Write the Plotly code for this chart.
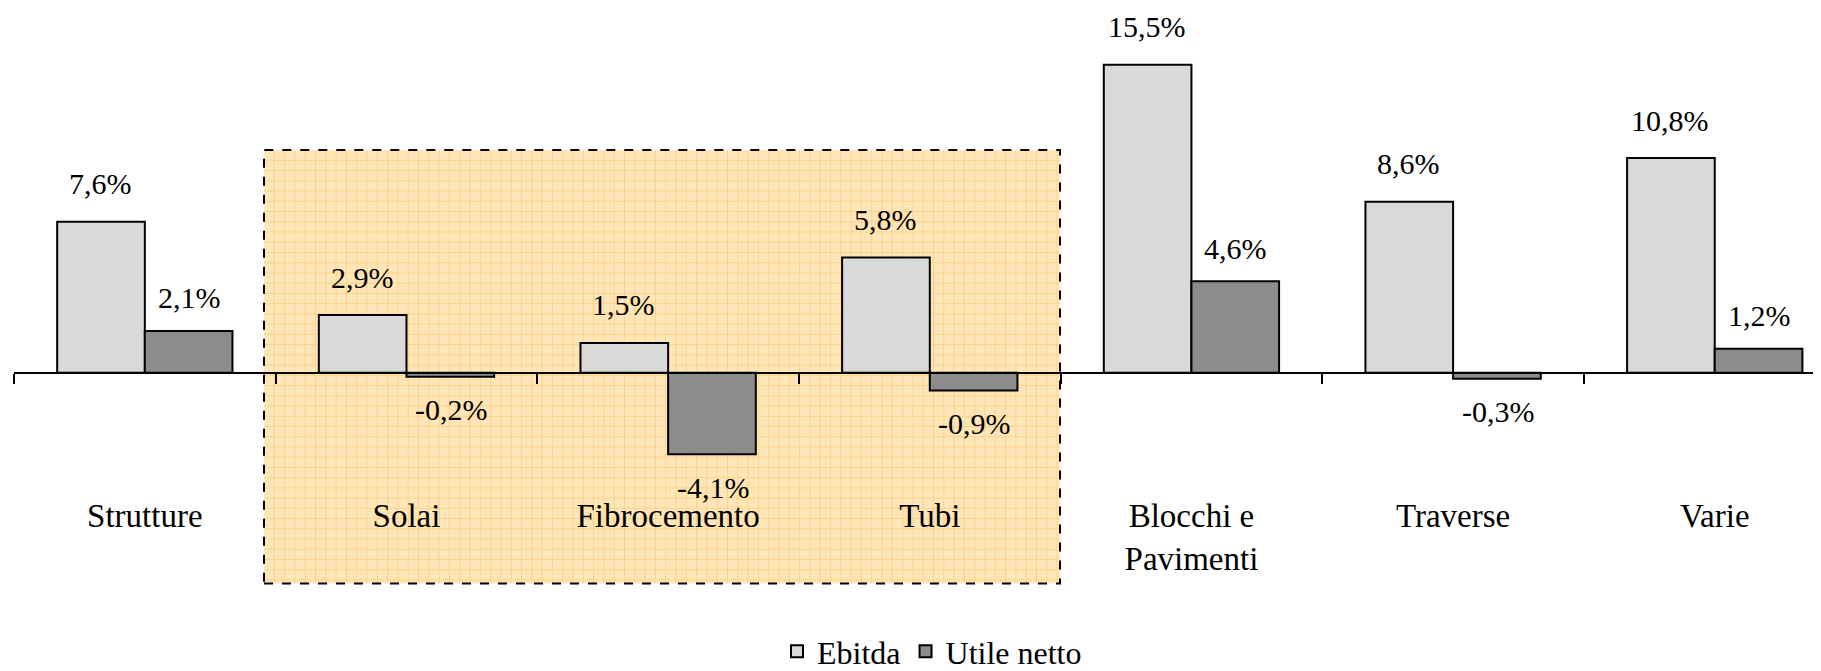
import plotly.graph_objects as go

# data
categorie = ["Strutture", "Solai", "Fibrocemento", "Tubi", "Blocchi e<br>Pavimenti", "Traverse", "Varie"]
ebitda = [7.6, 2.9, 1.5, 5.8, 15.5, 8.6, 10.8]
utile_netto = [2.1, -0.2, -4.1, -0.9, 4.6, -0.3, 1.2]

FONT = "Liberation Serif"
FS = 30

# layout geometry (pixels); the page body adds an 8px margin
OFF = 8
W, H = 1821, 671
ML, MB = 14 - OFF, 181 + OFF
PLOT_H = H - MB
PLOT_W = W - ML
AXIS_PX = 375 - OFF
PX_PER_UNIT = 20
Y_RANGE = [(AXIS_PX - PLOT_H) / PX_PER_UNIT, AXIS_PX / PX_PER_UNIT]


def fmt(v):
    return ("%.1f%%" % v).replace(".", ",")


def px_x(p):
    return (p - OFF - ML) / PLOT_W


def px_y(p):
    return (PLOT_H - (p - OFF)) / PLOT_H


fig = go.Figure()
fig.add_trace(go.Bar(x=categorie, y=ebitda, name="Ebitda",
                     marker=dict(color="#D9D9D9", line=dict(color="black", width=2))))
fig.add_trace(go.Bar(x=categorie, y=utile_netto, name="Utile netto",
                     marker=dict(color="#8C8C8C", line=dict(color="black", width=2))))

# value labels
for i, c in enumerate(categorie):
    fig.add_annotation(x=i - 0.17, y=ebitda[i], text=fmt(ebitda[i]), showarrow=False,
                       yanchor="middle", yshift=38 if ebitda[i] >= 0 else -38,
                       font=dict(family=FONT, size=FS, color="black"))
    fig.add_annotation(x=i + 0.17, y=utile_netto[i], text=fmt(utile_netto[i]), showarrow=False,
                       yanchor="middle", yshift=33 if utile_netto[i] >= 0 else -33,
                       font=dict(family=FONT, size=FS, color="black"))

# highlighted box (Solai, Fibrocemento, Tubi)
bx0, bx1, by0, by1 = 264, 1060, 151, 587
shapes = [dict(type="rect", xref="paper", yref="paper", x0=px_x(bx0), x1=px_x(bx1),
               y0=px_y(by1), y1=px_y(by0), fillcolor="#FFE6B8", line=dict(width=0), layer="below")]
step = 10.3
p = bx0 + step
while p < bx1:
    shapes.append(dict(type="line", xref="paper", yref="paper", x0=px_x(p), x1=px_x(p),
                       y0=px_y(by1), y1=px_y(by0), line=dict(color="#FDD38A", width=1), layer="below"))
    p += step
p = by0 + step
while p < by1:
    shapes.append(dict(type="line", xref="paper", yref="paper", x0=px_x(bx0), x1=px_x(bx1),
                       y0=px_y(p), y1=px_y(p), line=dict(color="#FDD38A", width=1), layer="below"))
    p += step
shapes.append(dict(type="rect", xref="paper", yref="paper", x0=px_x(bx0), x1=px_x(bx1),
                   y0=px_y(by1), y1=px_y(by0), fillcolor="rgba(0,0,0,0)",
                   line=dict(color="black", width=2, dash="dash"), layer="below"))

zero_pos = (0 - Y_RANGE[0]) / (Y_RANGE[1] - Y_RANGE[0])
x_end = (W - OFF - ML) / 260.5 - 0.5

fig.update_layout(
    width=W, height=H,
    margin=dict(l=ML, r=0, t=0, b=MB),
    plot_bgcolor="rgba(0,0,0,0)", paper_bgcolor="white",
    barmode="group", bargap=0.33, bargroupgap=0,
    font=dict(family=FONT, size=FS, color="black"),
    shapes=shapes,
    showlegend=True,
    legend=dict(orientation="h", x=px_x(932), xanchor="center", y=px_y(656), yanchor="middle",
                font=dict(family=FONT, size=32), itemwidth=30, tracegroupgap=0),
    xaxis=dict(type="category", range=[-0.5, x_end], anchor="free", position=zero_pos,
               showline=True, linecolor="black", linewidth=2,
               ticks="outside", tickson="boundaries", ticklen=10, tickwidth=2, tickcolor="black",
               ticklabelstandoff=114, showgrid=False, zeroline=False,
               tickfont=dict(family=FONT, size=33)),
    yaxis=dict(range=Y_RANGE, showticklabels=False, showgrid=False, zeroline=False, showline=False),
)

fig.write_html("out.html")
